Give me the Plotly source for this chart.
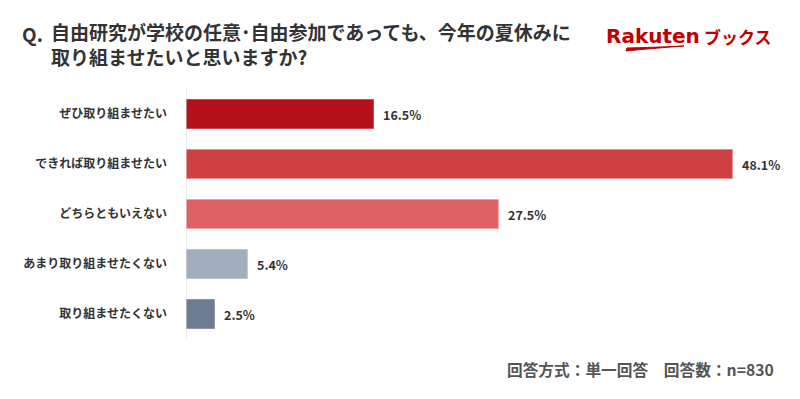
import plotly.graph_objects as go

categories = ["ぜひ取り組ませたい", "できれば取り組ませたい", "どちらともいえない", "あまり取り組ませたくない", "取り組ませたくない"]
values = [16.5, 48.1, 27.5, 5.4, 2.5]
value_labels = ["16.5%", "48.1%", "27.5%", "5.4%", "2.5%"]
colors = ["#B5111B", "#CF4043", "#E06165", "#A2ADBE", "#6E7C93"]
borders = ["#C94A50", "#E58A8D", "#F0A3A6", "#BCC4D1", "#8A95A8"]

FONT = "Noto Sans CJK JP"
L, R, T, B = 186, 46, 89, 60
W, H = 800, 399
PW, PH = W - L - R, H - T - B


def px(xp):
    return (xp - L) / PW


def py(yp):
    return (H - B - yp) / PH


fig = go.Figure()
fig.add_trace(go.Bar(
    x=values, y=categories, orientation="h",
    marker=dict(color=colors, line=dict(color=borders, width=1)),
    width=0.58,
    hoverinfo="skip",
))

for v, c, lab in zip(values, categories, value_labels):
    fig.add_annotation(x=v, y=c, xref="x", yref="y", text="<b>" + lab + "</b>",
                       showarrow=False, xanchor="left", yanchor="middle", xshift=8,
                       font=dict(family=FONT, size=12.5, color="#333333"))

fig.update_layout(
    width=W, height=H,
    margin=dict(l=L, r=R, t=T, b=B),
    paper_bgcolor="white", plot_bgcolor="white",
    showlegend=False,
    bargap=0.42,
    font=dict(family=FONT, color="#333333"),
    xaxis=dict(range=[0, 50], visible=False, fixedrange=True),
    yaxis=dict(
        autorange="reversed", showgrid=False, zeroline=False,
        showline=False, ticks="", ticklabelstandoff=18,
        tickmode="array", tickvals=categories,
        ticktext=["<b>" + c + "</b>" for c in categories],
        tickfont=dict(family=FONT, size=12, color="#333333"),
    ),
)

# vertical axis line
fig.add_shape(type="line", xref="x", yref="paper", x0=0, x1=0, y0=0, y1=1,
              line=dict(color="#D9D9D9", width=1))

# Title
fig.add_annotation(xref="paper", yref="paper", x=px(20), y=py(33), xanchor="left", yanchor="middle",
                   text="<b>Q.</b>", showarrow=False,
                   font=dict(family=FONT, size=19, color="#333333"))
fig.add_annotation(xref="paper", yref="paper", x=px(49), y=py(16), xanchor="left", yanchor="top",
                   text="<b>自由研究が学校の任意･自由参加であっても、今年の夏休みに</b><br>"
                        "<b>取り組ませたいと思いますか?</b>",
                   align="left", showarrow=False,
                   font=dict(family=FONT, size=19, color="#333333"))

# Logo
fig.add_annotation(xref="paper", yref="paper", x=px(604), y=py(36), xanchor="left", yanchor="middle",
                   text="<b>Rakuten</b>", showarrow=False,
                   font=dict(family="DejaVu Sans", size=20, color="#BF0000"))
fig.add_annotation(xref="paper", yref="paper", x=px(774), y=py(36), xanchor="right", yanchor="middle",
                   text="<b>ブックス</b>", showarrow=False,
                   font=dict(family=FONT, size=17, color="#BF0000"))
fig.add_shape(type="path", xref="paper", yref="paper",
              path="M %f %f L %f %f Q %f %f %f %f Q %f %f %f %f Z" % (
                  px(626), py(51), px(627), py(48),
                  px(650), py(47.5), px(684), py(46),
                  px(650), py(48.5), px(626), py(51)),
              line=dict(color="#BF0000", width=1), fillcolor="#BF0000")

# footer
fig.add_annotation(xref="paper", yref="paper", x=px(776), y=py(369), xanchor="right", yanchor="middle",
                   text="<b>回答方式：単一回答　回答数：n=830</b>", showarrow=False,
                   font=dict(family=FONT, size=15.7, color="#555555"))

fig.write_html("out.html")
